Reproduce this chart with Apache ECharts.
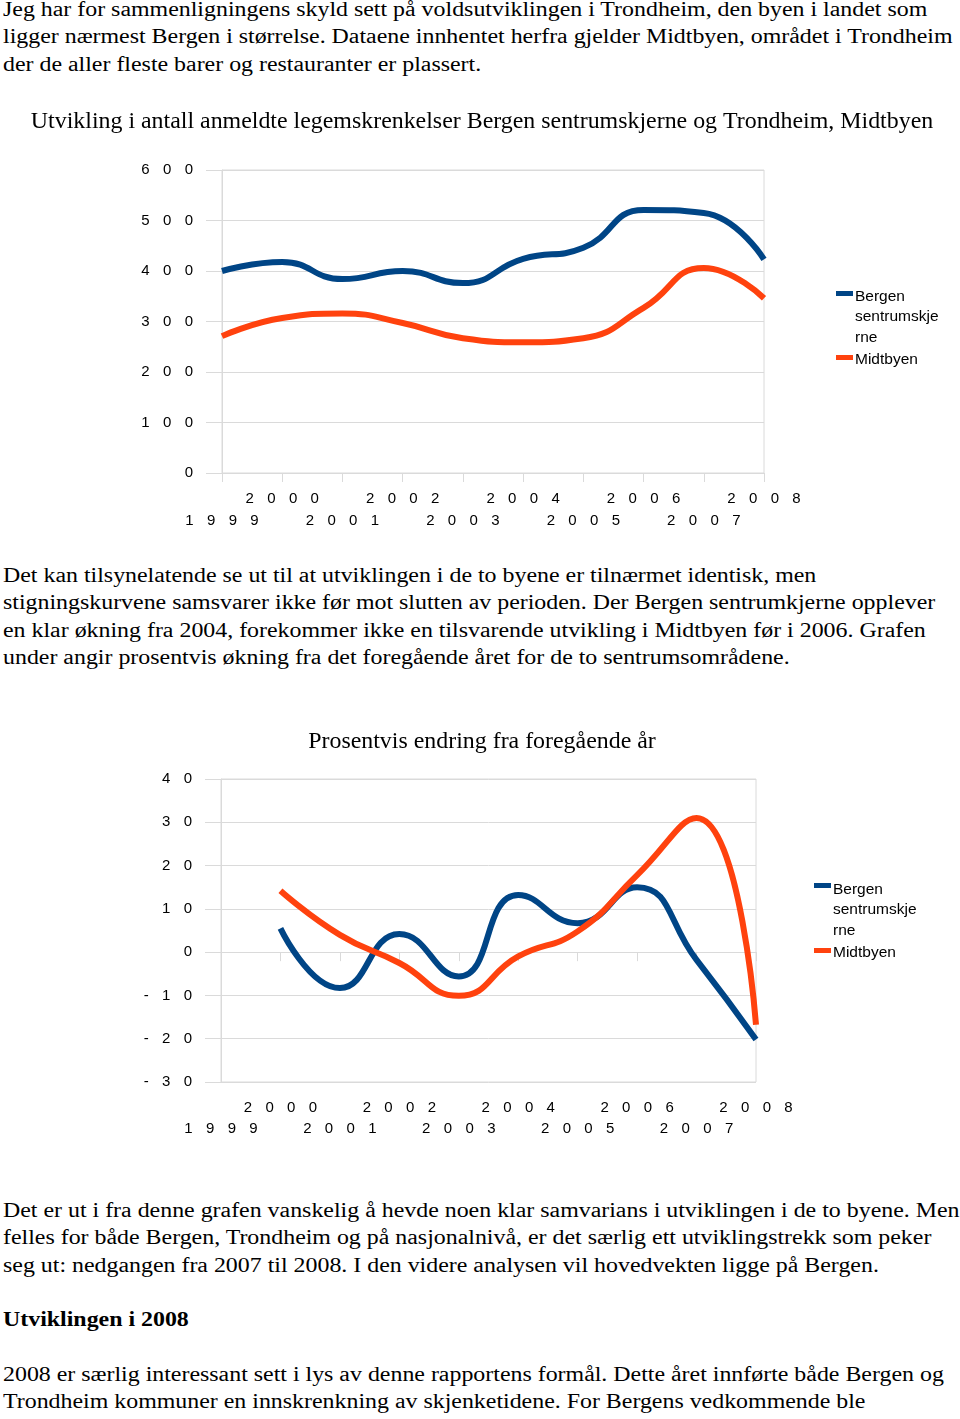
<!DOCTYPE html>
<html>
<head>
<meta charset="utf-8">
<script src="https://cdn.jsdelivr.net/npm/echarts@6/dist/echarts.min.js"></script>
<style>
  html, body { margin: 0; padding: 0; background: #fff; }
  body { width: 960px; height: 1419px; position: relative; overflow: hidden; }
  .p { position: absolute; left: 3px; font-family: 'Liberation Serif', 'Times New Roman', serif;
       font-size: 21.33px; line-height: 27.3px; color: #000; white-space: pre;
       transform: scaleX(1.12); transform-origin: 0 0; }
  .chart { position: absolute; left: 0; width: 960px; }
</style>
</head>
<body>
<div class="p" style="top:-4px">Jeg har for sammenligningens skyld sett på voldsutviklingen i Trondheim, den byen i landet som
ligger nærmest Bergen i størrelse. Dataene innhentet herfra gjelder Midtbyen, området i Trondheim
der de aller fleste barer og restauranter er plassert.</div>
<div id="c1" class="chart" style="top:100px;height:450px"></div>
<div class="p" style="top:562px">Det kan tilsynelatende se ut til at utviklingen i de to byene er tilnærmet identisk, men
stigningskurvene samsvarer ikke før mot slutten av perioden. Der Bergen sentrumkjerne opplever
en klar økning fra 2004, forekommer ikke en tilsvarende utvikling i Midtbyen før i 2006. Grafen
under angir prosentvis økning fra det foregående året for de to sentrumsområdene.</div>
<div id="c2" class="chart" style="top:700px;height:460px"></div>
<div class="p" style="top:1197px">Det er ut i fra denne grafen vanskelig å hevde noen klar samvarians i utviklingen i de to byene. Men
felles for både Bergen, Trondheim og på nasjonalnivå, er det særlig ett utviklingstrekk som peker
seg ut: nedgangen fra 2007 til 2008. I den videre analysen vil hovedvekten ligge på Bergen.</div>
<div class="p" style="top:1306px;font-weight:bold">Utviklingen i 2008</div>
<div class="p" style="top:1361px">2008 er særlig interessant sett i lys av denne rapportens formål. Dette året innførte både Bergen og
Trondheim kommuner en innskrenkning av skjenketidene. For Bergens vedkommende ble</div>
<script>
// ---- data ----
var years = ['1999','2000','2001','2002','2003','2004','2005','2006','2007','2008'];
var seriesNames = ['Bergen sentrumskjerne', 'Midtbyen'];
var bergenCount = [400, 418, 384, 400, 376, 424, 446, 521, 515, 423];
var midtbyenCount = [271, 307, 316, 297, 267, 259, 267, 327, 406, 346];
var bergenPct = [null, 5.5, -8.3, 4.2, -5.6, 13.2, 6.7, 15.0, -1.8, -20.2];
var midtbyenPct = [null, 14.2, 4.0, -2.5, -10.1, -1.0, 4.8, 17.8, 31.0, -16.8];
var title1 = 'Utvikling i antall anmeldte legemskrenkelser Bergen sentrumskjerne og Trondheim, Midtbyen';
var title2 = 'Prosentvis endring fra foregående år';
var legendLabels = ['Bergen\nsentrumskje\nrne', 'Midtbyen'];

// ---- styling ----
var BLUE = '#004586', ORANGE = '#ff420e', GRID = '#dadada';
var SANS = "'Liberation Sans', Arial, sans-serif";
var SERIF = "'Liberation Serif', 'Times New Roman', serif";
function spaced(s) { return String(s).split('').join('\u2007\u2004'); }

function buildOption(cfg) {
  return {
    animation: false,
    title: {
      text: cfg.title, left: cfg.titleX, top: cfg.titleTop, textAlign: 'center',
      textStyle: { fontFamily: SERIF, fontSize: 23.9, fontWeight: 'normal', color: '#000' }
    },
    grid: { left: cfg.grid[0], top: cfg.grid[1], width: cfg.grid[2], height: cfg.grid[3],
            show: true, borderColor: GRID, borderWidth: 1, backgroundColor: 'transparent' },
    xAxis: {
      type: 'category', data: years, boundaryGap: false,
      axisLine: { show: true, lineStyle: { color: GRID, width: 1 } },
      axisTick: { show: true, interval: 0, length: 9, lineStyle: { color: GRID } },
      splitLine: { show: false },
      axisLabel: {
        interval: 0, margin: cfg.xMargin, color: '#000', fontFamily: SANS, fontSize: 15,
        lineHeight: cfg.xLine, verticalAlign: 'top',
        formatter: function (v, i) { return i % 2 === 0 ? '\n' + spaced(v) : spaced(v) + '\n'; }
      }
    },
    yAxis: {
      type: 'value', min: cfg.yMin, max: cfg.yMax, interval: cfg.yInt,
      axisLine: { show: true, lineStyle: { color: GRID, width: 1 } },
      axisTick: { show: true, length: 16, lineStyle: { color: GRID } },
      splitLine: { show: true, lineStyle: { color: GRID, width: 1 } },
      axisLabel: { margin: 29, color: '#000', fontFamily: SANS, fontSize: 15,
                   formatter: function (v) { return spaced(v); } }
    },
    series: [
      { name: seriesNames[0], type: 'line', data: cfg.a, smooth: true, symbol: 'none',
        lineStyle: { color: BLUE, width: 6 }, itemStyle: { color: BLUE } },
      { name: seriesNames[1], type: 'line', data: cfg.b, smooth: true, symbol: 'none',
        lineStyle: { color: ORANGE, width: 6 }, itemStyle: { color: ORANGE } }
    ],
    graphic: [
      { type: 'rect', shape: { x: cfg.leg[0], y: cfg.leg[1], width: 17, height: 5 }, style: { fill: BLUE } },
      { type: 'text', x: cfg.leg[0] + 19, y: cfg.leg[2],
        style: { text: legendLabels[0], font: '15.5px ' + SANS, fill: '#000', lineHeight: 20.8, verticalAlign: 'top' } },
      { type: 'rect', shape: { x: cfg.leg[0], y: cfg.leg[3], width: 17, height: 5 }, style: { fill: ORANGE } },
      { type: 'text', x: cfg.leg[0] + 19, y: cfg.leg[4],
        style: { text: legendLabels[1], font: '15.5px ' + SANS, fill: '#000', lineHeight: 20.8, verticalAlign: 'top' } }
    ]
  };
}

var c1 = echarts.init(document.getElementById('c1'), null, { renderer: 'canvas' });
c1.setOption(buildOption({
  title: title1, titleX: 477, titleTop: 5,
  grid: [222, 70, 542, 303], xMargin: 15, xLine: 22,
  yMin: 0, yMax: 600, yInt: 100,
  a: bergenCount, b: midtbyenCount,
  leg: [836, 191, 186, 255, 249]
}));

var c2 = echarts.init(document.getElementById('c2'), null, { renderer: 'canvas' });
c2.setOption(buildOption({
  title: title2, titleX: 477, titleTop: 25,
  grid: [221, 79, 535, 303], xMargin: 15, xLine: 21,
  yMin: -30, yMax: 40, yInt: 10,
  a: bergenPct, b: midtbyenPct,
  leg: [814, 183, 179, 248, 242]
}));
</script>
</body>
</html>
